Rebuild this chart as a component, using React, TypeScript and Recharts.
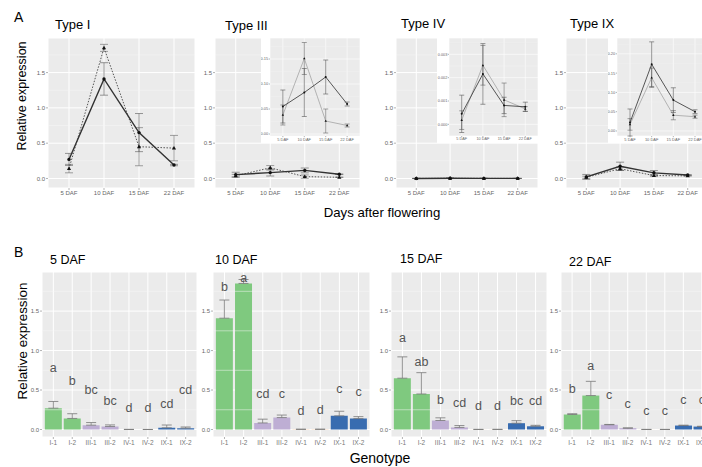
import React from 'react';
import { ComposedChart, Line, Bar, XAxis, YAxis, CartesianGrid, ErrorBar, ReferenceLine, Cell, LabelList } from 'recharts';

const DAF = ['5 DAF', '10 DAF', '15 DAF', '22 DAF'];
const GENOTYPES = ['I-1', 'I-2', 'III-1', 'III-2', 'IV-1', 'IV-2', 'IX-1', 'IX-2'];
const GENO_COLORS = ['#7fc97f', '#7fc97f', '#beaed4', '#beaed4', '#fdc086', '#fdc086', '#386cb0', '#386cb0'];

// mean relative expression at 5 / 10 / 15 / 22 DAF
const I_1 = [0.27, 1.41, 0.65, 0.19];
const I_2 = [0.14, 1.85, 0.45, 0.43];
const III_1 = [0.055, 0.083, 0.114, 0.06];
const III_2 = [0.038, 0.151, 0.026, 0.017];
const IV_1 = [0.00045, 0.00216, 0.00081, 0.00075];
const IV_2 = [0.00018, 0.00253, 0.00105, 0.00066];
const IX_1 = [0.022, 0.173, 0.08, 0.05];
const IX_2 = [0.017, 0.138, 0.041, 0.037];

// standard deviations
const I_1_SD = [0.085, 0.23, 0.27, 0.01];
const I_2_SD = [0.06, 0.05, 0.27, 0.18];
const III_1_SD = [0.033, 0.048, 0.034, 0.004];
const III_2_SD = [0.02, 0.032, 0.024, 0.003];
const IV_1_SD = [0.0008, 0.0013, 0.00035, 0.0002];
const IV_2_SD = [0.0004, 0.00085, 0.00072, 0.0001];
const IX_1_SD = [0.035, 0.058, 0.032, 0.005];
const IX_2_SD = [0.015, 0.025, 0.012, 0.004];

const MEANS = [I_1, I_2, III_1, III_2, IV_1, IV_2, IX_1, IX_2];
const SDS = [I_1_SD, I_2_SD, III_1_SD, III_2_SD, IV_1_SD, IV_2_SD, IX_1_SD, IX_2_SD];

// significance letters (and the height they sit at) per time point
const LETTERS_5 = ['a', 'b', 'bc', 'bc', 'd', 'd', 'cd', 'cd'];
const LETTERS_10 = ['b', 'a', 'cd', 'c', 'd', 'd', 'c', 'c'];
const LETTERS_15 = ['a', 'ab', 'b', 'cd', 'd', 'd', 'bc', 'cd'];
const LETTERS_22 = ['b', 'a', 'c', 'c', 'c', 'c', 'c', 'c'];
const LETTER_Y_5 = [0.78, 0.61, 0.5, 0.36, 0.27, 0.27, 0.32, 0.5];
const LETTER_Y_10 = [1.81, 1.92, 0.45, 0.45, 0.23, 0.245, 0.51, 0.47];
const LETTER_Y_15 = [1.16, 0.86, 0.38, 0.33, 0.3, 0.3, 0.36, 0.36];
const LETTER_Y_22 = [0.51, 0.81, 0.44, 0.32, 0.24, 0.24, 0.37, 0.37];

const MAIN_TICKS = [0, 0.5, 1, 1.5];
const MAIN_MINOR = [0.25, 0.75, 1.25, 1.75];
const III_TICKS = [0, 0.05, 0.1, 0.15];
const III_MINOR = [0.025, 0.075, 0.125, 0.175];
const IV_TICKS = [0, 0.001, 0.002, 0.003];
const IV_MINOR = [0.0005, 0.0015, 0.0025, 0.0035];
const IX_TICKS = [0, 0.05, 0.1, 0.15, 0.2];
const IX_MINOR = [0.025, 0.075, 0.125, 0.175, 0.225];

const FONT = '"Liberation Sans", Arial, sans-serif';

const lineRows = (a: number[], aSd: number[], b: number[], bSd: number[]) =>
  DAF.map((d, i) => ({ daf: d, s: a[i], sSd: aSd[i], t: b[i], tSd: bSd[i] }));

const barRows = (k: number, letters: string[], ly: number[]) =>
  GENOTYPES.map((g, i) => ({ g, mean: MEANS[i][k], err: [0, SDS[i][k]], letter: letters[i], ly: ly[i] }));

const circleDot = (r: number) => (p: any) => (
  <circle key={`c${p.index}`} cx={p.cx} cy={p.cy} r={r} fill="#111" />
);
const triDot = (r: number) => (p: any) => (
  <path
    key={`t${p.index}`}
    d={`M${p.cx},${p.cy - r}L${p.cx + r * 0.95},${p.cy + r * 0.65}L${p.cx - r * 0.95},${p.cy + r * 0.65}Z`}
    fill="#111"
  />
);

type LineProps = {
  left: number; top: number; w: number; h: number; yw: number; xh: number;
  rows: any[]; domain: [number, number]; ticks: number[]; minor: number[];
  digits: number; font: number; inset?: boolean;
};

function LinePanel(p: LineProps) {
  const width = p.yw + p.w;
  const height = p.h + p.xh;
  const pad = (0.6 * p.w) / 4.2;
  const k = p.inset ? 0.6 : 1;
  return (
    <div style={{ position: 'absolute', left: p.left - p.yw, top: p.top, width, height, background: '#fff' }}>
      <ComposedChart width={width} height={height} data={p.rows} margin={{ top: 0, right: 0, bottom: 0, left: 0 }}>
        <CartesianGrid fill="#ebebeb" stroke="#fff" strokeWidth={k} />
        {p.minor.map(m => (
          <ReferenceLine key={m} y={m} stroke="#f6f6f6" strokeWidth={0.5 * k} />
        ))}
        <XAxis
          dataKey="daf"
          scale="point"
          padding={{ left: pad, right: pad }}
          axisLine={false}
          tickLine={{ stroke: '#666', strokeWidth: 0.5 }}
          tickSize={2 * k}
          tickMargin={0.5}
          interval={0}
          height={p.xh}
          tick={{ fontSize: p.font, fill: '#666', fontFamily: FONT }}
        />
        <YAxis
          type="number"
          domain={p.domain}
          allowDataOverflow
          ticks={p.ticks}
          tickFormatter={(v: number) => v.toFixed(p.digits)}
          axisLine={false}
          tickLine={{ stroke: '#666', strokeWidth: 0.5 }}
          tickSize={2 * k}
          tickMargin={p.inset ? 0.5 : 1}
          width={p.yw}
          tick={{ fontSize: p.font, fill: '#666', fontFamily: FONT }}
        />
        <Line
          dataKey="t"
          stroke={p.inset ? '#999' : '#555'}
          strokeWidth={p.inset ? 0.7 : 1}
          strokeDasharray={p.inset ? undefined : '1.5 1.5'}
          dot={triDot(p.inset ? 1.3 : 2.2)}
          activeDot={false}
          isAnimationActive={false}
        >
          <ErrorBar dataKey="tSd" width={p.inset ? 2.5 : 4} stroke="#666" strokeWidth={0.6} direction="y" />
        </Line>
        <Line
          dataKey="s"
          stroke={p.inset ? '#444' : '#333'}
          strokeWidth={p.inset ? 0.9 : 1.4}
          dot={circleDot(p.inset ? 1 : 1.7)}
          activeDot={false}
          isAnimationActive={false}
        >
          <ErrorBar dataKey="sSd" width={p.inset ? 2.5 : 4} stroke="#555" strokeWidth={0.6} direction="y" />
        </Line>
      </ComposedChart>
    </div>
  );
}

const Letter = (props: any) => {
  const x = props.x ?? props.viewBox?.x;
  const y = props.y ?? props.viewBox?.y;
  return (
    <text x={x} y={y} dy="0.32em" textAnchor="middle" fontSize={12.5} fill="#555" stroke="none" fontFamily={FONT}>
      {props.value}
    </text>
  );
};

function BarPanel({ left, w, rows }: { left: number; w: number; rows: any[] }) {
  const yw = 16;
  const xh = 11;
  const h = 165;
  const width = yw + w;
  const height = h + xh;
  const pad = (0.1 * w) / 8.2;
  return (
    <div style={{ position: 'absolute', left: left - yw, top: 272, width, height }}>
      <ComposedChart width={width} height={height} data={rows} margin={{ top: 0, right: 0, bottom: 0, left: 0 }} barCategoryGap="5%">
        <CartesianGrid fill="#ebebeb" stroke="#fff" />
        {MAIN_MINOR.map(m => (
          <ReferenceLine key={m} y={m} stroke="#f6f6f6" strokeWidth={0.5} />
        ))}
        <XAxis
          dataKey="g"
          padding={{ left: pad, right: pad }}
          axisLine={false}
          tickLine={{ stroke: '#666', strokeWidth: 0.5 }}
          tickSize={2}
          tickMargin={1}
          interval={0}
          height={xh}
          tick={{ fontSize: 6.5, fill: '#777', fontFamily: FONT }}
        />
        <YAxis
          type="number"
          domain={[-0.095, 1.995]}
          allowDataOverflow
          ticks={MAIN_TICKS}
          tickFormatter={(v: number) => v.toFixed(1)}
          axisLine={false}
          tickLine={{ stroke: '#666', strokeWidth: 0.5 }}
          tickSize={2}
          tickMargin={1}
          width={yw}
          tick={{ fontSize: 6, fill: '#666', fontFamily: FONT }}
        />
        <Bar dataKey="mean" isAnimationActive={false}>
          {rows.map((_, i) => (
            <Cell key={i} fill={GENO_COLORS[i]} />
          ))}
          <ErrorBar dataKey="err" width={5} stroke="#777" strokeWidth={0.8} direction="y" />
        </Bar>
        <Line dataKey="ly" stroke="none" dot={false} activeDot={false} legendType="none" isAnimationActive={false}>
          <LabelList dataKey="letter" content={Letter} />
        </Line>
      </ComposedChart>
    </div>
  );
}

export default function App() {
  return (
    <div style={{ position: 'fixed', left: 0, top: 0, width: 702, height: 467, overflow: 'hidden', background: '#fff', fontFamily: FONT }}>
      {/* row A: time courses */}
      <LinePanel left={48} top={38} w={147} h={150} yw={18} xh={12} rows={lineRows(I_1, I_1_SD, I_2, I_2_SD)}
        domain={[-0.135, 1.99]} ticks={MAIN_TICKS} minor={MAIN_MINOR} digits={1} font={6} />
      <LinePanel left={215} top={38} w={145} h={150} yw={18} xh={12} rows={lineRows(III_1, III_1_SD, III_2, III_2_SD)}
        domain={[-0.135, 1.99]} ticks={MAIN_TICKS} minor={MAIN_MINOR} digits={1} font={6} />
      <LinePanel left={396} top={38} w={142} h={150} yw={18} xh={12} rows={lineRows(IV_1, IV_1_SD, IV_2, IV_2_SD)}
        domain={[-0.135, 1.99]} ticks={MAIN_TICKS} minor={MAIN_MINOR} digits={1} font={6} />
      <LinePanel left={566} top={38} w={142} h={150} yw={18} xh={12} rows={lineRows(IX_1, IX_1_SD, IX_2, IX_2_SD)}
        domain={[-0.135, 1.99]} ticks={MAIN_TICKS} minor={MAIN_MINOR} digits={1} font={6} />

      {/* insets */}
      <LinePanel inset left={270} top={38} w={90} h={98} yw={9} xh={7} rows={lineRows(III_1, III_1_SD, III_2, III_2_SD)}
        domain={[-0.004, 0.192]} ticks={III_TICKS} minor={III_MINOR} digits={2} font={4} />
      <LinePanel inset left={449} top={38} w={89} h={98} yw={12} xh={7} rows={lineRows(IV_1, IV_1_SD, IV_2, IV_2_SD)}
        domain={[-0.0005, 0.0037]} ticks={IV_TICKS} minor={IV_MINOR} digits={3} font={3.8} />
      <LinePanel inset left={617} top={38} w={91} h={98} yw={9} xh={7} rows={lineRows(IX_1, IX_1_SD, IX_2, IX_2_SD)}
        domain={[-0.013, 0.241]} ticks={IX_TICKS} minor={IX_MINOR} digits={2} font={4} />

      {/* row B: genotypes per time point */}
      <BarPanel left={42} w={155} rows={barRows(0, LETTERS_5, LETTER_Y_5)} />
      <BarPanel left={213} w={157} rows={barRows(1, LETTERS_10, LETTER_Y_10)} />
      <BarPanel left={391} w={156} rows={barRows(2, LETTERS_15, LETTER_Y_15)} />
      <BarPanel left={561} w={152} rows={barRows(3, LETTERS_22, LETTER_Y_22)} />

      <svg width={702} height={467} style={{ position: 'absolute', left: 0, top: 0, pointerEvents: 'none' }} fontFamily={FONT}>
        <text x={14} y={22} fontSize={14}>A</text>
        <text x={14} y={257} fontSize={14}>B</text>
        <text x={55} y={29} fontSize={13}>Type I</text>
        <text x={225} y={30} fontSize={13}>Type III</text>
        <text x={401} y={28} fontSize={13}>Type IV</text>
        <text x={570} y={28} fontSize={13}>Type IX</text>
        <text x={50} y={264} fontSize={12.5}>5 DAF</text>
        <text x={215} y={264} fontSize={12.5}>10 DAF</text>
        <text x={400} y={263} fontSize={12.5}>15 DAF</text>
        <text x={569} y={266} fontSize={12.5}>22 DAF</text>
        <text transform="translate(22,96) rotate(-90)" textAnchor="middle" dy="0.35em" fontSize={12.5}>Relative expression</text>
        <text transform="translate(22,341) rotate(-90)" textAnchor="middle" dy="0.35em" fontSize={13.4}>Relative expression</text>
        <text x={382} y={217} textAnchor="middle" fontSize={13.2}>Days after flowering</text>
        <text x={380} y={463} textAnchor="middle" fontSize={14}>Genotype</text>
      </svg>
    </div>
  );
}
